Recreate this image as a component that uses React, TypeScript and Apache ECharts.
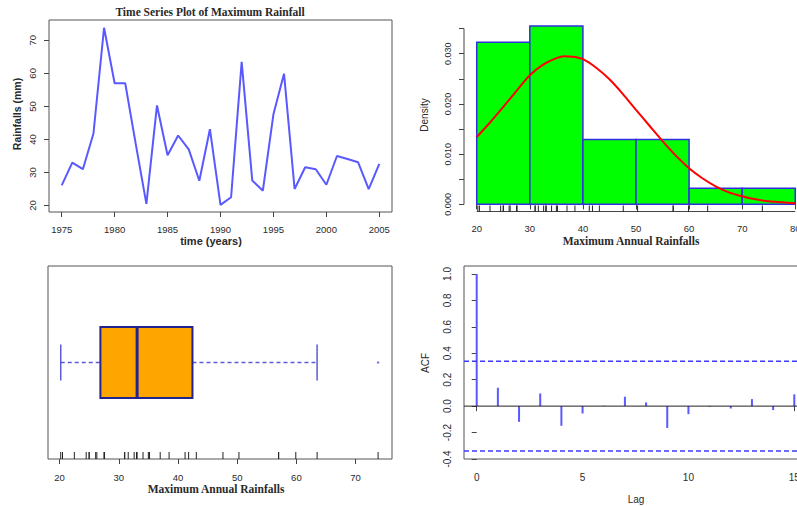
import React, { useEffect, useRef } from "react";
import * as echarts from "echarts";

// ---------- data ----------
const years = [
  1975, 1976, 1977, 1978, 1979, 1980, 1981, 1982, 1983, 1984, 1985, 1986, 1987, 1988, 1989, 1990,
  1991, 1992, 1993, 1994, 1995, 1996, 1997, 1998, 1999, 2000, 2001, 2002, 2003, 2004, 2005,
];
const rainfall = [
  26.1, 33.0, 31.0, 41.8, 73.8, 57.0, 57.0, 38.5, 20.5, 50.3, 35.2, 41.2, 37.0, 27.5, 43.1, 20.2,
  22.5, 63.5, 27.6, 24.5, 47.6, 59.9, 25.0, 31.6, 31.0, 26.3, 35.0, 34.1, 33.1, 25.0, 32.6,
];
const yearTicks = [1975, 1980, 1985, 1990, 1995, 2000, 2005];
const rainTicks = [20, 30, 40, 50, 60, 70];
const histBreaks = [20, 30, 40, 50, 60, 70, 80];
const densityTicks = [0, 0.005, 0.01, 0.015, 0.02, 0.025, 0.03, 0.035];
const densityLabels = [0, 0.01, 0.02, 0.03];
// fitted density curve
const curveX = [20, 22.5, 25, 27.5, 30, 32.5, 35, 36.5, 38, 40, 42.5, 45, 47.5, 50, 52.5, 55, 57.5, 60, 62.5, 65, 67.5, 70, 72.5, 75, 77.5, 80];
const curveY = [
  0.0134, 0.0163, 0.0194, 0.0226, 0.0257, 0.0278, 0.0291, 0.0295, 0.0294, 0.0289, 0.0272, 0.0249,
  0.0220, 0.0188, 0.0157, 0.0126, 0.0097, 0.0072, 0.0052, 0.0036, 0.0024, 0.0016, 0.0010, 0.0006,
  0.0004, 0.0002,
];
const boxTicks = [20, 30, 40, 50, 60, 70];
const acfLags = [0, 1, 2, 3, 4, 5, 6, 7, 8, 9, 10, 11, 12, 13, 14, 15];
const acfValues = [1.0, 0.139, -0.119, 0.096, -0.149, -0.056, 0.003, 0.071, 0.028, -0.165, -0.061, -0.005, -0.018, 0.053, -0.03, 0.089];
const acfCI = 0.34;
const acfYStep = 0.2;
const acfYTicks = [-0.4, -0.2, 0, 0.2, 0.4, 0.6, 0.8, 1.0];
const acfXTicks = [0, 5, 10, 15];

// ---------- helpers ----------
function fivenum(v: number[]) {
  const s = [...v].sort((a, b) => a - b);
  const n = s.length;
  const n4 = Math.floor((n + 3) / 2) / 2;
  const d = [1, n4, (n + 1) / 2, n + 1 - n4, n];
  return d.map((x) => 0.5 * (s[Math.floor(x) - 1] + s[Math.ceil(x) - 1]));
}

const AXIS = "#444";
const TXT = "#2a2a2a";
const SANS = "Liberation Sans";
const SERIF = "Liberation Serif";

export default function App() {
  const ref = useRef<HTMLDivElement>(null);
  useEffect(() => {
    if (!ref.current) return;
    const chart = echarts.init(ref.current, undefined, { renderer: "svg" });

    const tsData = years.map((y, i) => [y, rainfall[i]]);
    const n = rainfall.length;
    const histData = histBreaks.slice(0, -1).map((lo, i) => {
      const hi = histBreaks[i + 1];
      const c = rainfall.filter((v) => (i === 0 ? v >= lo : v > lo) && v <= hi).length;
      return [lo, hi, c / (n * (hi - lo))];
    });
    const fn = fivenum(rainfall);
    const iqr = fn[3] - fn[1];
    const inside = rainfall.filter((v) => v >= fn[1] - 1.5 * iqr && v <= fn[3] + 1.5 * iqr);
    const outliers = rainfall.filter((v) => v < fn[1] - 1.5 * iqr || v > fn[3] + 1.5 * iqr);
    const boxStats = [Math.min(...inside), fn[1], fn[2], fn[3], Math.max(...inside)];

    const tsX = [1973.8, 2006.2];
    const tsY = [18.05, 76.15];
    const histX = [17.6, 82.4];
    const histY = [-0.00142, 0.0369];
    const boxX = [18.05, 76.15];
    const acfX = [-0.6, 15.6];
    const acfY = [-0.4, 1.06];

    const tickLabel = (size: number) => ({
      color: TXT,
      fontFamily: SANS,
      fontSize: size,
    });

    const gridCommon = { outerBoundsMode: "none", containLabel: false } as any;

    const rugRender = (len: number) => (params: any, api: any) => {
      const x = api.coord([api.value(0), 0])[0];
      const cs = params.coordSys;
      const yb = cs.y + cs.height;
      return {
        type: "line",
        shape: { x1: x, y1: yb, x2: x, y2: yb - len },
        style: { stroke: "#222", lineWidth: 1 },
      };
    };

    const option: any = {
      animation: false,
      backgroundColor: "#ffffff",
      grid: [
        { ...gridCommon, left: 49, top: 20, width: 343, height: 192, show: true, borderColor: "#555", borderWidth: 1 },
        { ...gridCommon, left: 464, top: 19, width: 344, height: 192.5 },
        { ...gridCommon, left: 48, top: 266, width: 344, height: 193, show: true, borderColor: "#555", borderWidth: 1 },
        { ...gridCommon, left: 464, top: 266, width: 343, height: 193, show: true, borderColor: "#555", borderWidth: 1 },
      ],
      xAxis: [
        {
          gridIndex: 0, type: "value", min: tsX[0], max: tsX[1],
          axisLine: { show: false }, splitLine: { show: false },
          axisTick: { show: true, length: 5, customValues: yearTicks, lineStyle: { color: AXIS } },
          axisLabel: { ...tickLabel(9.5), margin: 12, customValues: yearTicks, formatter: (v: number) => String(v) },
        },
        {
          gridIndex: 1, type: "value", min: histX[0], max: histX[1],
          axisLine: { show: false }, splitLine: { show: false },
          axisTick: { show: true, length: 5, customValues: histBreaks, lineStyle: { color: AXIS } },
          axisLabel: { ...tickLabel(9.5), margin: 12, customValues: histBreaks, formatter: (v: number) => String(v) },
        },
        {
          gridIndex: 2, type: "value", min: boxX[0], max: boxX[1],
          axisLine: { show: false }, splitLine: { show: false },
          axisTick: { show: true, length: 5, customValues: boxTicks, lineStyle: { color: AXIS } },
          axisLabel: { ...tickLabel(9.5), margin: 13, customValues: boxTicks, formatter: (v: number) => String(v) },
        },
        {
          gridIndex: 3, type: "value", min: acfX[0], max: acfX[1],
          axisLine: { show: false }, splitLine: { show: false },
          axisTick: { show: true, length: 5, customValues: acfXTicks, lineStyle: { color: AXIS } },
          axisLabel: { ...tickLabel(10), margin: 13, customValues: acfXTicks, formatter: (v: number) => String(v) },
        },
      ],
      yAxis: [
        {
          gridIndex: 0, type: "value", min: tsY[0], max: tsY[1],
          axisLine: { show: false }, splitLine: { show: false },
          axisTick: { show: true, length: 5, customValues: rainTicks, lineStyle: { color: AXIS } },
          axisLabel: { ...tickLabel(9.5), margin: 12, rotate: 90, customValues: rainTicks, formatter: (v: number) => String(v) },
        },
        {
          gridIndex: 1, type: "value", min: histY[0], max: histY[1],
          axisLine: { show: false }, splitLine: { show: false },
          axisTick: { show: true, length: 5, customValues: densityTicks, lineStyle: { color: AXIS } },
          axisLabel: {
            ...tickLabel(9), margin: 12, rotate: 90, customValues: densityLabels,
            formatter: (v: number) => v.toFixed(3),
          },
        },
        {
          gridIndex: 2, type: "value", min: 0, max: 2, show: false,
        },
        {
          gridIndex: 3, type: "value", min: acfY[0], max: acfY[1], interval: acfYStep,
          axisLine: { show: false }, splitLine: { show: false },
          axisTick: { show: true, length: 5, customValues: acfYTicks, lineStyle: { color: AXIS } },
          axisLabel: {
            ...tickLabel(10), margin: 12, rotate: 90, hideOverlap: false,
            showMinLabel: true, showMaxLabel: false,
            formatter: (v: number) => v.toFixed(1),
          },
        },
      ],
      series: [
        {
          type: "line", xAxisIndex: 0, yAxisIndex: 0, data: tsData, symbol: "none",
          lineStyle: { color: "#5959ff", width: 2 },
        },
        {
          type: "custom", xAxisIndex: 1, yAxisIndex: 1, data: histData,
          encode: { x: [0, 1], y: 2 },
          renderItem: (params: any, api: any) => {
            const p1 = api.coord([api.value(0), api.value(2)]);
            const p2 = api.coord([api.value(1), 0]);
            return {
              type: "rect",
              shape: { x: p1[0], y: p1[1], width: p2[0] - p1[0], height: p2[1] - p1[1] },
              style: { fill: "#00ff00", stroke: "#3030e0", lineWidth: 1.5 },
            };
          },
        },
        {
          type: "line", xAxisIndex: 1, yAxisIndex: 1, smooth: 0.3, symbol: "none",
          data: curveX.map((x, i) => [x, curveY[i]]),
          lineStyle: { color: "#ff0000", width: 2 },
          z: 5,
        },
        {
          type: "custom", xAxisIndex: 1, yAxisIndex: 1, data: rainfall.map((v) => [v]),
          encode: { x: 0 }, renderItem: rugRender(6), z: 6,
        },
        {
          type: "custom", xAxisIndex: 2, yAxisIndex: 2, data: [[...boxStats, 1]],
          encode: { x: [0, 1, 2, 3, 4], y: 5 },
          renderItem: (params: any, api: any) => {
            const yc = api.value(5);
            const p = [0, 1, 2, 3, 4].map((k) => api.coord([api.value(k), yc]));
            const cy = p[0][1];
            const hb = 35.5;
            const hc = 18;
            const wStyle = { stroke: "#5b5bd6", lineWidth: 1.5 };
            return {
              type: "group",
              children: [
                { type: "line", shape: { x1: p[0][0], y1: cy, x2: p[1][0], y2: cy }, style: { ...wStyle, lineDash: [4, 3] } },
                { type: "line", shape: { x1: p[3][0], y1: cy, x2: p[4][0], y2: cy }, style: { ...wStyle, lineDash: [4, 3] } },
                { type: "line", shape: { x1: p[0][0], y1: cy - hc, x2: p[0][0], y2: cy + hc }, style: wStyle },
                { type: "line", shape: { x1: p[4][0], y1: cy - hc, x2: p[4][0], y2: cy + hc }, style: wStyle },
                {
                  type: "rect",
                  shape: { x: p[1][0], y: cy - hb, width: p[3][0] - p[1][0], height: 2 * hb },
                  style: { fill: "#ffa500", stroke: "#23238e", lineWidth: 2 },
                },
                { type: "line", shape: { x1: p[2][0], y1: cy - hb, x2: p[2][0], y2: cy + hb }, style: { stroke: "#23238e", lineWidth: 3 } },
              ],
            };
          },
        },
        {
          type: "scatter", xAxisIndex: 2, yAxisIndex: 2, data: outliers.map((v) => [v, 1]),
          symbol: "circle", symbolSize: 2.5, itemStyle: { color: "#5b5bd6" },
        },
        {
          type: "custom", xAxisIndex: 2, yAxisIndex: 2, data: rainfall.map((v) => [v]),
          encode: { x: 0 }, renderItem: rugRender(7),
        },
        {
          type: "line", xAxisIndex: 3, yAxisIndex: 3, symbol: "none",
          data: [[acfX[0], 0], [acfX[1], 0]], lineStyle: { color: "#222", width: 1 },
        },
        {
          type: "line", xAxisIndex: 3, yAxisIndex: 3, symbol: "none",
          data: [[acfX[0], acfCI], [acfX[1], acfCI]], lineStyle: { color: "#3b3bff", width: 1.5, type: [5, 3] },
        },
        {
          type: "line", xAxisIndex: 3, yAxisIndex: 3, symbol: "none",
          data: [[acfX[0], -acfCI], [acfX[1], -acfCI]], lineStyle: { color: "#3b3bff", width: 1.5, type: [5, 3] },
        },
        {
          type: "custom", xAxisIndex: 3, yAxisIndex: 3, data: acfLags.map((l, i) => [l, acfValues[i]]),
          encode: { x: 0, y: 1 },
          renderItem: (params: any, api: any) => {
            const a = api.coord([api.value(0), 0]);
            const b = api.coord([api.value(0), api.value(1)]);
            return {
              type: "line",
              shape: { x1: a[0], y1: a[1], x2: b[0], y2: b[1] },
              style: { stroke: "#5959ff", lineWidth: 2 },
            };
          },
        },
      ],
    };

    chart.setOption(option);

    const px = (g: number, v: number[]) => chart.convertToPixel({ gridIndex: g } as any, v) as number[];
    const h0 = px(1, [histBreaks[0], histY[0]]);
    const h1 = px(1, [histBreaks[histBreaks.length - 1], histY[0]]);
    const v0 = px(1, [histX[0], densityTicks[0]]);
    const v1 = px(1, [histX[0], densityTicks[densityTicks.length - 1]]);

    const txt = (text: string, x: number, y: number, font: string, rot = 0) => ({
      type: "text",
      x,
      y,
      rotation: rot,
      style: { text, font, fill: TXT, align: "center", verticalAlign: "middle" },
    });

    chart.setOption({
      graphic: [
        { type: "line", shape: { x1: h0[0], y1: h0[1], x2: h1[0], y2: h1[1] }, style: { stroke: AXIS, lineWidth: 1 } },
        { type: "line", shape: { x1: v0[0], y1: v0[1], x2: v1[0], y2: v1[1] }, style: { stroke: AXIS, lineWidth: 1 } },
        txt("Time Series Plot of Maximum Rainfall", 210, 12, `bold 11.5px "${SERIF}"`),
        txt("time (years)", 211, 241, `bold 11px "${SANS}"`),
        txt("Rainfalls (mm)", 17, 114, `bold 10.5px "${SANS}"`, Math.PI / 2),
        txt("Density", 424, 115, `10px "${SANS}"`, Math.PI / 2),
        txt("Maximum Annual Rainfalls", 631, 241, `bold 11.5px "${SERIF}"`),
        txt("Maximum Annual Rainfalls", 216, 489, `bold 11.5px "${SERIF}"`),
        txt("ACF", 425, 363, `10px "${SANS}"`, Math.PI / 2),
        txt("Lag", 636, 499, `10px "${SANS}"`),
      ],
    });

    return () => chart.dispose();
  }, []);

  return (
    <div
      ref={ref}
      style={{ position: "fixed", left: 0, top: 0, width: 797, height: 506, background: "#fff" }}
    />
  );
}
